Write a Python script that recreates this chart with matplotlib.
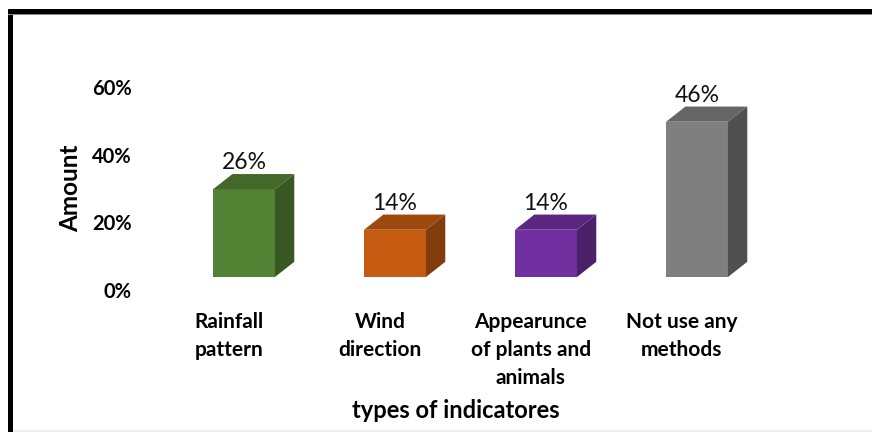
import numpy as np
import matplotlib.pyplot as plt
from matplotlib.patches import Rectangle, Polygon

plt.rcParams['font.family'] = ['Lato', 'DejaVu Sans']

categories = ['Rainfall\npattern', 'Wind\ndirection', 'Appearunce\nof plants and\nanimals',
              'Not use any\nmethods']
values = [26, 14, 14, 46]
front_colors = ['#548235', '#c55a11', '#7030a0', '#7f7f7f']
top_colors = ['#43682a', '#9d480e', '#5a2680', '#666666']
side_colors = ['#385723', '#843c0c', '#4b2069', '#505050']
yticks = [0, 20, 40, 60]

W, H = 872, 432
fig = plt.figure(figsize=(W / 100, H / 100), dpi=100)

# axes placed in pixel terms: x unit = 151 px, 1% = 3.375 px
left, right, top, bottom = 140, 820, 40, 300
ax = fig.add_axes([left / W, 1 - bottom / H, (right - left) / W, (bottom - top) / H])
ax.set_xlim((left - 244) / 151, (right - 244) / 151)
ax.set_ylim((277 - bottom) / 3.375, (277 - top) / 3.375)

bw = 0.41      # front face width
dx = 0.128     # depth offset in x
dy = 4.5       # depth offset in y

for i, v in enumerate(values):
    x0, x1 = i - bw / 2, i + bw / 2
    ax.add_patch(Rectangle((x0, 0), bw, v, facecolor=front_colors[i], edgecolor='none'))
    ax.add_patch(Polygon([(x0, v), (x1, v), (x1 + dx, v + dy), (x0 + dx, v + dy)],
                         facecolor=top_colors[i], edgecolor='none'))
    ax.add_patch(Polygon([(x1, 0), (x1 + dx, dy), (x1 + dx, v + dy), (x1, v)],
                         facecolor=side_colors[i], edgecolor='none'))
    ax.text(i, v + dy + 0.3, f'{v}%', ha='center', va='bottom', fontsize=16.5, color='#111111')

# tick labels sit a bit below the floor, like the 3D chart
for t in yticks:
    ax.text(-0.745, t - 4.4, f'{t}%', ha='right', va='center', fontsize=14.5,
            fontweight='bold', color='#000000')

for i, c in enumerate(categories):
    ax.text(i - 0.1, -10.3, c, ha='center', va='top', fontsize=15, fontweight='bold',
            linespacing=1.5, color='#000000')

ax.axis('off')

fig.text(71 / W, 1 - 188 / H, 'Amount', rotation=90, ha='center', va='center',
         fontsize=17.5, fontweight='bold', color='#000000')
fig.text(456 / W, 1 - 411 / H, 'types of indicatores', ha='center', va='center',
         fontsize=17, fontweight='bold', color='#000000')

# outer frame (left and top thick black, faint line at the bottom)
fig.add_artist(Rectangle((8 / W, 0), 5 / W, 1 - 9 / H, transform=fig.transFigure,
                         facecolor='black', edgecolor='none'))
fig.add_artist(Rectangle((8 / W, 1 - 14 / H), 1 - 8 / W, 5 / H, transform=fig.transFigure,
                         facecolor='black', edgecolor='none'))
fig.add_artist(Rectangle((8 / W, 1 - 15 / H), 1 - 8 / W, 1 / H, transform=fig.transFigure,
                         facecolor='#888888', edgecolor='none'))
fig.add_artist(Rectangle((13 / W, 0), 1 - 13 / W, 2 / H, transform=fig.transFigure,
                         facecolor='#eeeeee', edgecolor='none'))

fig.savefig('out.png', dpi=100)
